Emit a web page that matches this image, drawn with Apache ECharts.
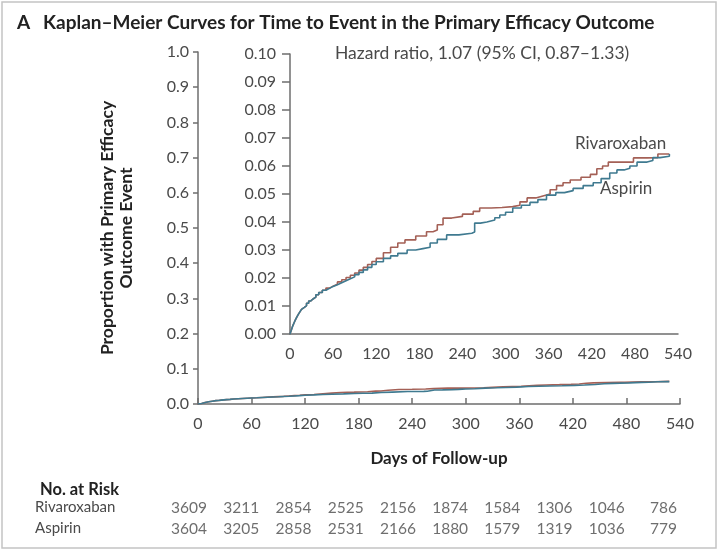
<!DOCTYPE html>
<html><head><meta charset="utf-8">
<script src="https://cdn.jsdelivr.net/npm/echarts@6/dist/echarts.min.js"></script>
<style>html,body{margin:0;padding:0;background:#fff}#c{width:719px;height:555px}</style>
</head><body><div id="c"></div>
<script>
// ---- data ----
const xTicks = [0,60,120,180,240,300,360,420,480,540];
const rivaDays = [0,2,4,6,8,10,12,14,16,18,20,23,26,29,32,36,40,45,50,55,60,66,72,78,84,90,96,102,108,114,120,130,140,150,160,175,190,199,205,213,225,240,255,264,280,295,310,320,330,342,352,362,371,380,390,405,418,427,435,443,473,478,497,512,528];
const rivaVals = [0,0.0015,0.003,0.0042,0.0053,0.0063,0.0072,0.008,0.0088,0.0095,0.0101,0.011,0.0118,0.0125,0.0132,0.014,0.0148,0.0156,0.0164,0.0171,0.0178,0.0186,0.0194,0.0202,0.021,0.0218,0.0228,0.0238,0.0248,0.0259,0.027,0.029,0.031,0.0325,0.0336,0.035,0.0365,0.0371,0.039,0.0414,0.042,0.0428,0.0438,0.045,0.0452,0.0455,0.046,0.0472,0.0486,0.0493,0.050,0.0515,0.053,0.054,0.055,0.056,0.057,0.059,0.060,0.0614,0.0614,0.0629,0.063,0.0643,0.0643];
const aspDays = [0,2,4,6,8,10,12,14,16,18,20,23,26,29,32,36,40,45,50,55,60,66,72,78,84,90,96,102,108,114,120,130,140,150,163,175,185,195,205,218,235,253,257,265,274,285,292,300,310,322,334,345,357,370,382,394,408,422,433,445,455,465,473,483,497,505,515,528];
const aspVals = [0,0.0015,0.003,0.0042,0.0053,0.0063,0.0072,0.008,0.0088,0.0095,0.0101,0.011,0.0118,0.0125,0.0132,0.014,0.0148,0.0156,0.0163,0.017,0.0176,0.0183,0.019,0.0197,0.0204,0.0212,0.022,0.0229,0.0238,0.0248,0.0258,0.027,0.0279,0.0288,0.030,0.0305,0.031,0.0325,0.0338,0.0354,0.036,0.0364,0.0396,0.040,0.0407,0.0415,0.0425,0.0435,0.045,0.046,0.047,0.048,0.0496,0.0505,0.0512,0.052,0.053,0.054,0.0555,0.0575,0.0586,0.0592,0.060,0.0614,0.062,0.063,0.0635,0.0643];
const riskGroups = ['Rivaroxaban','Aspirin'];
const riskRiva = [3609,3211,2854,2525,2156,1874,1584,1306,1046,786];
const riskAsp  = [3604,3205,2858,2531,2166,1880,1579,1319,1036,779];

const FONT = 'Lato, "Open Sans", sans-serif';
const C_RIVA = '#a46056', C_ASP = '#3f7a90';
const AX = '#6e6e6e', TXT = '#4a4a4a';
const zip = (a,b)=>a.map((d,i)=>[d,b[i]]);

const chart = echarts.init(document.getElementById('c'), null, {renderer:'canvas'});
const lineStyleBase = {width:1.6};
const mainAxisLine = {show:true, lineStyle:{color:AX, width:1.5}};

chart.setOption({
  backgroundColor:'#fff',
  animation:false,
  textStyle:{fontFamily:FONT},
  title:[
    {text:'A', left:12, top:8, textStyle:{fontFamily:FONT, fontSize:19, fontWeight:'bold', color:'#222'}},
    {text:'Kaplan–Meier Curves for Time to Event in the Primary Efficacy Outcome', left:38, top:8, textStyle:{fontFamily:FONT, fontSize:19, fontWeight:'bold', color:'#222'}},
    {text:'No. at Risk', left:35, top:476, textStyle:{fontFamily:FONT, fontSize:16.5, fontWeight:'bold', color:'#222'}}
  ],
  graphic:[
    {type:'rect', shape:{x:2,y:2,width:714,height:546}, style:{fill:'none', stroke:'#c4c4c4', lineWidth:1.5}, silent:true},
    {type:'text', left:335, top:44, style:{text:'Hazard ratio, 1.07 (95% CI, 0.87–1.33)', font:'17.5px '+FONT, fill:TXT}},
    {type:'text', left:575, top:135, style:{text:'Rivaroxaban', font:'17px '+FONT, fill:TXT}},
    {type:'text', left:600, top:180, style:{text:'Aspirin', font:'17px '+FONT, fill:TXT}}
  ],
  grid:[
    {left:198, right:39, top:52, height:352},
    {left:290, right:41, top:54, height:280},
    {left:207, right:42, top:497, height:42}
  ],
  xAxis:[
    {gridIndex:0, type:'value', min:0, max:540, interval:60,
     axisLine:mainAxisLine, axisTick:{show:true, inside:true, length:6, lineStyle:{color:AX,width:1.5}},
     axisLabel:{margin:12, fontSize:16, color:TXT, fontFamily:FONT}, splitLine:{show:false},
     name:'Days of Follow-up', nameLocation:'middle', nameGap:46,
     nameTextStyle:{fontSize:17, fontWeight:'bold', color:'#222', fontFamily:FONT}},
    {gridIndex:1, type:'value', min:0, max:540, interval:60,
     axisLine:{show:true, lineStyle:{color:AX, width:1.5}}, axisTick:{show:false},
     axisLabel:{margin:12, fontSize:16, color:TXT, fontFamily:FONT}, splitLine:{show:false}},
    {gridIndex:2, type:'value', min:0, max:540, show:false}
  ],
  yAxis:[
    {gridIndex:0, type:'value', min:0, max:1, interval:0.1,
     axisLine:mainAxisLine, axisTick:{show:true, length:5, lineStyle:{color:AX,width:1.5}},
     axisLabel:{margin:9, fontSize:16, color:TXT, fontFamily:FONT, formatter:v=>v.toFixed(1)}, splitLine:{show:false},
     name:'Proportion with Primary Efficacy\nOutcome Event', nameLocation:'middle', nameGap:62, nameRotate:90,
     nameTextStyle:{fontSize:17.5, fontWeight:'bold', color:'#222', fontFamily:FONT, lineHeight:19}},
    {gridIndex:1, type:'value', min:0, max:0.1, interval:0.01,
     axisLine:{show:true, lineStyle:{color:AX, width:1.5}}, axisTick:{show:true, length:8, lineStyle:{color:AX,width:1.5}},
     axisLabel:{margin:14, fontSize:16, color:TXT, fontFamily:FONT, formatter:v=>v.toFixed(2)}, splitLine:{show:false}},
    {gridIndex:2, type:'category', data:riskGroups, inverse:true,
     axisLine:{show:false}, axisTick:{show:false}, splitLine:{show:false},
     axisLabel:{margin:172, align:'left', fontSize:15, color:TXT, fontFamily:FONT}}
  ],
  series:[
    {type:'line', name:'Rivaroxaban', xAxisIndex:0, yAxisIndex:0, step:'end', showSymbol:false, data:zip(rivaDays,rivaVals), lineStyle:{...lineStyleBase,color:C_RIVA}},
    {type:'line', name:'Aspirin', xAxisIndex:0, yAxisIndex:0, step:'end', showSymbol:false, data:zip(aspDays,aspVals), lineStyle:{...lineStyleBase,color:C_ASP}},
    {type:'line', name:'Rivaroxaban', xAxisIndex:1, yAxisIndex:1, step:'end', showSymbol:false, data:zip(rivaDays,rivaVals), lineStyle:{...lineStyleBase,color:C_RIVA}, z:3},
    {type:'line', name:'Aspirin', xAxisIndex:1, yAxisIndex:1, step:'end', showSymbol:false, data:zip(aspDays,aspVals), lineStyle:{...lineStyleBase,color:C_ASP}, z:4},
    {type:'scatter', xAxisIndex:2, yAxisIndex:2, symbolSize:0, silent:true,
     data:xTicks.map((d,i)=>[d,riskGroups[0],riskRiva[i]]),
     label:{show:true, position:'inside', align:'right', formatter:p=>String(p.value[2]), fontSize:15.5, color:TXT, fontFamily:FONT}},
    {type:'scatter', xAxisIndex:2, yAxisIndex:2, symbolSize:0, silent:true,
     data:xTicks.map((d,i)=>[d,riskGroups[1],riskAsp[i]]),
     label:{show:true, position:'inside', align:'right', formatter:p=>String(p.value[2]), fontSize:15.5, color:TXT, fontFamily:FONT}}
  ]
});
</script></body></html>
